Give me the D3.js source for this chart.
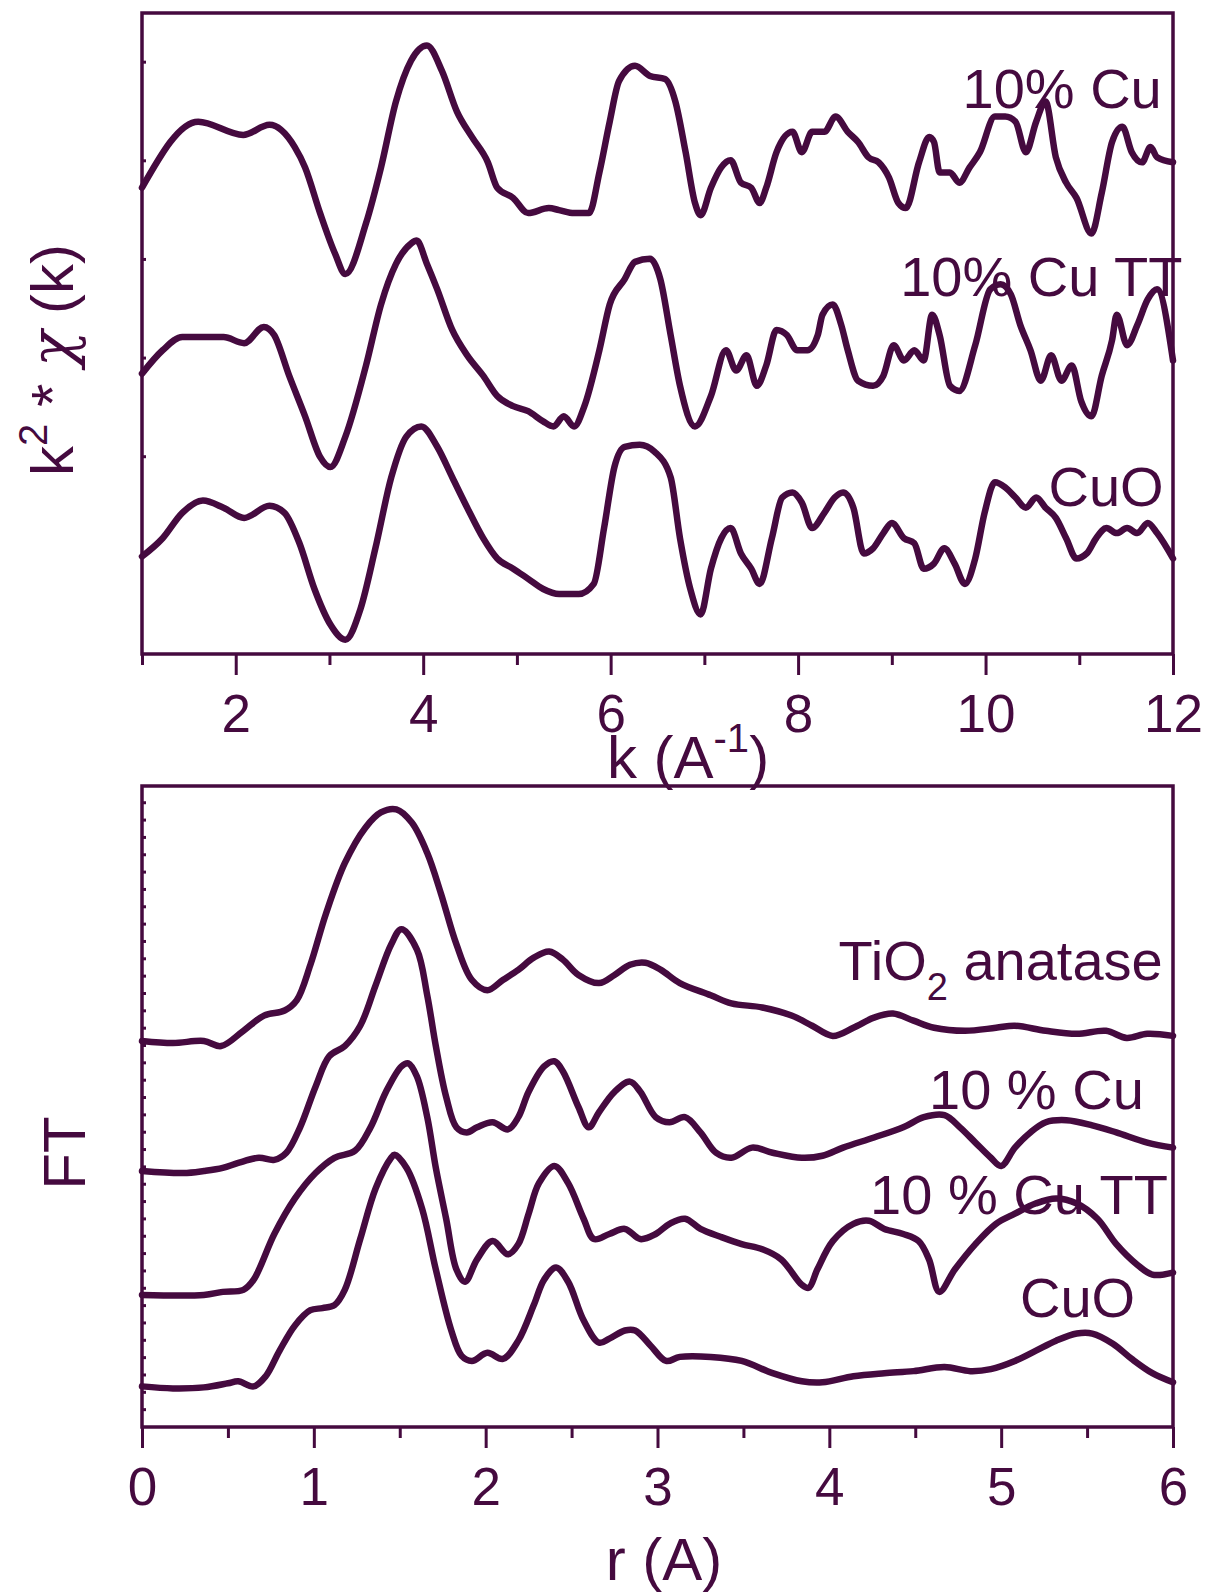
<!DOCTYPE html>
<html><head><meta charset="utf-8">
<script src="https://cdn.jsdelivr.net/npm/d3@7"></script>
<style>
html,body{margin:0;padding:0;background:#fff;}
svg text{font-family:"Liberation Sans",Arial,sans-serif;fill:#450a3f;}
</style></head>
<body>
<svg id="chart" width="1209" height="1594"></svg>
<script>
// ---------- DATA ----------
// Top panel: k (1/Å) and k²χ(k) in arbitrary units (curves offset for display)
const kCu10 = [1.00,1.60,2.08,2.36,2.63,2.74,2.90,3.06,3.17,3.39,3.55,3.71,3.87,4.04,4.20,4.36,4.52,4.69,4.79,4.96,5.12,5.34,5.45,5.61,5.77,5.88,5.99,6.09,6.26,6.42,6.58,6.69,6.80,6.90,6.96,7.07,7.18,7.28,7.39,7.50,7.59,7.66,7.77,7.94,8.04,8.15,8.28,8.40,8.53,8.64,8.75,8.86,8.97,9.07,9.15,9.29,9.40,9.45,9.51,9.62,9.72,9.83,9.94,10.10,10.21,10.32,10.43,10.54,10.64,10.75,10.86,10.97,11.13,11.24,11.35,11.46,11.56,11.67,11.76,11.83,12.00];
const yCu10 = [4.59,5.24,5.11,5.21,4.99,4.79,4.34,3.94,3.74,4.24,4.79,5.44,5.84,5.99,5.74,5.34,5.09,4.84,4.59,4.49,4.34,4.39,4.37,4.34,4.34,4.74,5.24,5.64,5.79,5.69,5.66,5.44,4.94,4.44,4.32,4.59,4.79,4.86,4.64,4.59,4.44,4.59,4.94,5.14,4.94,5.14,5.14,5.29,5.14,5.04,4.89,4.84,4.69,4.44,4.39,4.84,5.09,5.04,4.74,4.74,4.64,4.79,4.94,5.29,5.29,5.24,4.94,5.24,5.44,4.89,4.64,4.49,4.14,4.54,5.04,5.19,4.94,4.84,4.99,4.89,4.84];

const kCu10TT = [1.00,1.22,1.43,1.87,2.09,2.30,2.41,2.57,2.74,2.90,3.01,3.17,3.39,3.55,3.71,3.87,3.93,4.04,4.15,4.31,4.47,4.64,4.79,4.96,5.12,5.28,5.39,5.50,5.61,5.72,5.88,5.99,6.15,6.26,6.42,6.53,6.64,6.74,6.90,7.07,7.23,7.34,7.45,7.56,7.66,7.77,7.88,7.99,8.10,8.21,8.26,8.37,8.46,8.53,8.64,8.80,8.91,9.02,9.13,9.24,9.34,9.43,9.51,9.62,9.72,9.89,10.05,10.16,10.27,10.37,10.48,10.59,10.70,10.81,10.92,11.02,11.13,11.24,11.35,11.40,11.51,11.62,11.73,11.83,12.00];
const yCu10TT = [2.76,2.99,3.12,3.12,3.06,3.22,3.14,2.74,2.34,1.94,1.84,2.14,2.84,3.44,3.84,4.04,4.07,3.84,3.59,3.19,2.94,2.74,2.54,2.44,2.39,2.29,2.24,2.34,2.24,2.44,2.99,3.44,3.69,3.86,3.89,3.69,3.14,2.64,2.24,2.54,2.99,2.79,2.94,2.64,2.84,3.19,3.14,2.99,2.99,3.14,3.34,3.44,3.24,2.99,2.69,2.64,2.74,3.04,2.89,2.99,2.89,3.34,3.14,2.64,2.59,3.04,3.59,3.64,3.54,3.24,2.99,2.69,2.94,2.69,2.84,2.49,2.34,2.74,3.09,3.34,3.04,3.24,3.49,3.59,2.89];

const kCuO = [1.00,1.22,1.43,1.65,1.87,2.09,2.36,2.52,2.68,2.84,3.01,3.17,3.33,3.49,3.66,3.82,3.98,4.15,4.31,4.47,4.64,4.79,4.96,5.12,5.28,5.45,5.66,5.82,5.93,6.04,6.15,6.31,6.47,6.64,6.74,6.85,6.96,7.07,7.18,7.28,7.39,7.50,7.59,7.72,7.83,7.94,8.04,8.15,8.28,8.39,8.48,8.59,8.70,8.80,8.91,9.00,9.13,9.24,9.34,9.45,9.56,9.67,9.78,9.89,9.99,10.10,10.21,10.32,10.43,10.54,10.64,10.75,10.86,10.97,11.08,11.18,11.29,11.40,11.51,11.62,11.73,11.83,12.00];
const yCuO = [0.96,1.14,1.39,1.51,1.44,1.34,1.46,1.39,1.09,0.64,0.29,0.14,0.44,1.04,1.74,2.14,2.24,2.04,1.74,1.44,1.14,0.94,0.84,0.74,0.64,0.59,0.59,0.69,1.24,1.84,2.04,2.06,1.99,1.74,1.14,0.64,0.39,0.84,1.14,1.24,0.99,0.84,0.69,1.14,1.54,1.59,1.49,1.24,1.39,1.54,1.59,1.44,0.99,1.04,1.19,1.29,1.14,1.09,0.84,0.89,1.04,0.89,0.69,0.94,1.39,1.69,1.64,1.54,1.44,1.54,1.44,1.34,1.14,0.94,0.99,1.14,1.24,1.19,1.24,1.19,1.29,1.19,0.94];

// Bottom panel: r (Å) and |FT| in arbitrary units (curves offset for display)
const rTiO2 = [0.00,0.18,0.36,0.46,0.59,0.71,0.83,0.90,0.98,1.07,1.18,1.30,1.39,1.48,1.57,1.66,1.74,1.83,1.92,2.01,2.10,2.19,2.28,2.37,2.45,2.54,2.66,2.75,2.84,2.93,3.02,3.13,3.31,3.43,3.61,3.78,3.90,4.02,4.14,4.26,4.37,4.49,4.61,4.79,4.97,5.08,5.26,5.44,5.61,5.73,5.85,6.00];
const fTiO2 = [3.80,3.78,3.80,3.75,3.90,4.05,4.10,4.20,4.55,5.05,5.55,5.90,6.05,6.08,5.95,5.65,5.25,4.75,4.40,4.30,4.40,4.50,4.62,4.68,4.60,4.45,4.37,4.45,4.55,4.57,4.50,4.37,4.25,4.17,4.13,4.05,3.95,3.85,3.93,4.03,4.07,4.00,3.93,3.90,3.93,3.95,3.90,3.87,3.90,3.83,3.87,3.85];

const rCu10 = [0.00,0.24,0.36,0.47,0.56,0.68,0.77,0.84,0.92,1.01,1.09,1.18,1.27,1.36,1.45,1.51,1.60,1.66,1.71,1.77,1.83,1.89,1.95,2.04,2.13,2.19,2.25,2.34,2.40,2.45,2.54,2.60,2.66,2.75,2.84,2.90,2.99,3.07,3.16,3.25,3.34,3.43,3.55,3.67,3.84,3.96,4.08,4.26,4.43,4.55,4.67,4.76,4.85,4.94,5.00,5.08,5.17,5.26,5.38,5.53,5.67,5.85,6.00];
const fCu10 = [2.52,2.50,2.52,2.55,2.60,2.65,2.63,2.70,2.95,3.35,3.65,3.75,3.95,4.35,4.75,4.90,4.70,4.25,3.75,3.25,2.95,2.90,2.95,3.00,2.93,3.05,3.30,3.55,3.60,3.50,3.15,2.95,3.10,3.30,3.40,3.30,3.05,3.00,3.05,2.90,2.70,2.65,2.75,2.70,2.65,2.67,2.75,2.85,2.95,3.05,3.07,2.95,2.80,2.65,2.57,2.75,2.90,3.00,3.02,2.97,2.90,2.80,2.75];

const rCu10TT = [0.00,0.36,0.47,0.59,0.65,0.77,0.89,1.01,1.12,1.24,1.33,1.42,1.51,1.55,1.60,1.66,1.71,1.77,1.83,1.88,1.95,2.04,2.13,2.19,2.25,2.31,2.40,2.48,2.57,2.63,2.72,2.81,2.90,2.99,3.07,3.16,3.25,3.37,3.49,3.61,3.72,3.84,3.88,3.93,4.02,4.14,4.23,4.32,4.43,4.52,4.58,4.64,4.73,4.85,4.97,5.08,5.20,5.32,5.44,5.56,5.67,5.79,5.88,6.00];
const fCu10TT = [1.30,1.30,1.33,1.35,1.45,1.90,2.25,2.50,2.65,2.72,2.95,3.30,3.55,3.58,3.45,3.05,2.55,2.05,1.55,1.43,1.65,1.83,1.70,1.80,2.10,2.40,2.57,2.40,2.05,1.85,1.90,1.95,1.85,1.90,2.00,2.05,1.95,1.87,1.80,1.75,1.65,1.40,1.37,1.55,1.83,2.00,2.03,1.95,1.90,1.83,1.65,1.33,1.55,1.80,2.00,2.10,2.20,2.25,2.20,2.05,1.80,1.60,1.50,1.52];

const rCuO = [0.00,0.18,0.36,0.50,0.56,0.65,0.72,0.80,0.89,0.98,1.05,1.12,1.18,1.27,1.36,1.45,1.47,1.54,1.63,1.71,1.80,1.86,1.92,2.01,2.10,2.19,2.28,2.34,2.41,2.48,2.57,2.66,2.72,2.81,2.87,2.96,3.05,3.13,3.31,3.49,3.67,3.84,3.96,4.14,4.32,4.49,4.67,4.82,4.94,5.08,5.20,5.32,5.44,5.53,5.65,5.76,5.88,6.00];
const fCuO = [0.40,0.38,0.39,0.43,0.45,0.40,0.50,0.75,1.00,1.15,1.17,1.20,1.35,1.85,2.35,2.65,2.68,2.55,2.15,1.55,0.95,0.70,0.65,0.73,0.67,0.85,1.20,1.45,1.57,1.43,1.05,0.83,0.87,0.95,0.95,0.80,0.65,0.69,0.69,0.65,0.53,0.45,0.44,0.50,0.53,0.55,0.59,0.55,0.57,0.65,0.75,0.85,0.92,0.92,0.82,0.67,0.53,0.44];

const kTicksMajor = [2,4,6,8,10,12];
const kTicksMinor = [1,3,5,7,9,11];
const rTicksMajor = [0,1,2,3,4,5,6];
const rTicksMinor = [0.5,1.5,2.5,3.5,4.5,5.5];

const topLabels = [
  {text:"10% Cu", k:11.88, v:5.37},
  {text:"10% Cu TT", k:12.10, v:3.52},
  {text:"CuO", k:11.9, v:1.46}
];
const botLabels = [
  {text:"TiO", sub:"2", rest:" anatase", r:5.94, v:4.40},
  {text:"10 % Cu", r:5.83, v:3.13},
  {text:"10 % Cu TT", r:5.97, v:2.10},
  {text:"CuO", r:5.78, v:1.08}
];

// ---------- DRAW ----------
const COL = "#450a3f";
const svg = d3.select("#chart");
const L = 142, R = 1173;
const top1 = 13, bot1 = 654, top2 = 786, bot2 = 1427;

const xK = d3.scaleLinear().domain([1,12]).range([L,R]);
const yK = d3.scaleLinear().domain([0,6.31]).range([bot1,top1]);
const xR = d3.scaleLinear().domain([0,6]).range([L,R]);
const yR = d3.scaleLinear().domain([0,6.31]).range([bot2,top2]);

function drawLine(x, y, xs, ys, curve){
  const pts = xs.map((d,i)=>[d, ys[i]]);
  svg.append("path").datum(pts)
    .attr("fill","none").attr("stroke",COL).attr("stroke-width",6.5)
    .attr("stroke-linejoin","round").attr("stroke-linecap","round")
    .attr("d", d3.line().x(d=>x(d[0])).y(d=>y(d[1])).curve(curve));
}

function frame(x, y, top, bot, major, minor, leftStep, leftN){
  const axB = d3.axisBottom(x).tickValues(major).tickSize(21).tickFormat(d3.format("d"));
  const gB = svg.append("g").attr("transform",`translate(0,${bot})`).call(axB);
  gB.select(".domain").remove();
  gB.selectAll(".tick line").attr("stroke",COL).attr("stroke-width",3);
  gB.selectAll(".tick text").attr("font-size",53).attr("fill",COL)
    .attr("y",78).attr("dy",0)
    .attr("font-family","Liberation Sans, Arial, sans-serif");
  const axM = d3.axisBottom(x).tickValues(minor).tickSize(11).tickFormat("");
  const gM = svg.append("g").attr("transform",`translate(0,${bot})`).call(axM);
  gM.select(".domain").remove();
  gM.selectAll(".tick line").attr("stroke",COL).attr("stroke-width",3);
  const lt = d3.range(1,leftN+1).map(i=>i*leftStep);
  svg.append("g").selectAll("line").data(lt).join("line")
    .attr("x1",L).attr("x2",L+4).attr("y1",d=>y(d)).attr("y2",d=>y(d))
    .attr("stroke",COL).attr("stroke-width",3);
  svg.append("rect").attr("x",L).attr("y",top).attr("width",R-L).attr("height",bot-top)
    .attr("fill","none").attr("stroke",COL).attr("stroke-width",3.5);
}

frame(xK, yK, top1, bot1, kTicksMajor, kTicksMinor, 0.971, 6);
frame(xR, yR, top2, bot2, rTicksMajor, rTicksMinor, 0.1707, 36);

const cTop = d3.curveMonotoneX;
drawLine(xK, yK, kCu10, yCu10, cTop);
drawLine(xK, yK, kCu10TT, yCu10TT, cTop);
drawLine(xK, yK, kCuO, yCuO, cTop);

const cBot = d3.curveCatmullRom.alpha(0.5);
drawLine(xR, yR, rTiO2, fTiO2, cBot);
drawLine(xR, yR, rCu10, fCu10, cBot);
drawLine(xR, yR, rCu10TT, fCu10TT, cBot);
drawLine(xR, yR, rCuO, fCuO, cBot);

topLabels.forEach(l=>{
  svg.append("text").attr("x",xK(l.k)).attr("y",yK(l.v)).attr("text-anchor","end")
    .attr("font-size",56).text(l.text);
});
botLabels.forEach(l=>{
  const t = svg.append("text").attr("x",xR(l.r)).attr("y",yR(l.v)).attr("text-anchor","end")
    .attr("font-size",56);
  if(l.sub){
    t.append("tspan").text(l.text);
    t.append("tspan").attr("font-size",38).attr("dy",20).text(l.sub);
    t.append("tspan").attr("dy",-20).text(l.rest);
  } else t.text(l.text);
});

const yt = svg.append("text").attr("transform","translate(73,360) rotate(-90)")
  .attr("text-anchor","middle").attr("font-size",60);
yt.append("tspan").text("k");
yt.append("tspan").attr("font-size",40).attr("dy",-26).text("2");
yt.append("tspan").attr("dy",26).text(" * ");
yt.append("tspan").attr("font-family","DejaVu Serif, serif").attr("font-style","italic").text("χ");
yt.append("tspan").text(" (k)");

svg.append("text").attr("transform","translate(85,1153) rotate(-90)")
  .attr("text-anchor","middle").attr("font-size",60).text("FT");

const xt = svg.append("text").attr("x",688).attr("y",778).attr("text-anchor","middle").attr("font-size",60);
xt.append("tspan").text("k (A");
xt.append("tspan").attr("font-size",40).attr("dy",-26).text("-1");
xt.append("tspan").attr("dy",26).text(")");

svg.append("text").attr("x",664).attr("y",1580).attr("text-anchor","middle").attr("font-size",60).text("r (A)");
</script>
</body></html>
